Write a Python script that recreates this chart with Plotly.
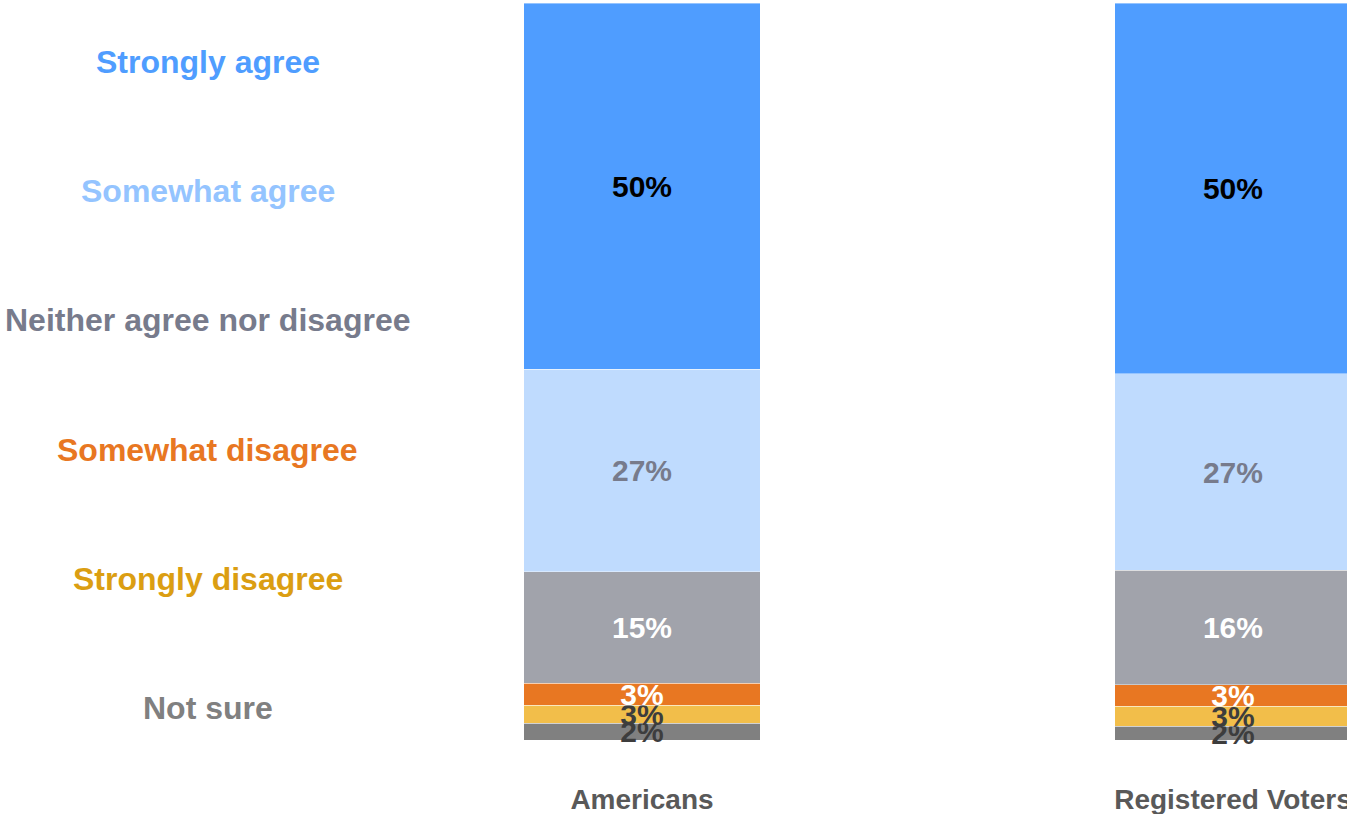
import plotly.graph_objects as go

groups = ["Americans", "Registered Voters"]

# stacked bottom -> top
responses = [
    "Not sure",
    "Strongly disagree",
    "Somewhat disagree",
    "Neither agree nor disagree",
    "Somewhat agree",
    "Strongly agree",
]
americans = [2.3, 2.4, 3.0, 15.1, 27.5, 49.7]
voters = [1.9, 2.7, 2.9, 15.5, 26.7, 50.3]
americans_labels = ["2%", "3%", "3%", "15%", "27%", "50%"]
voters_labels = ["2%", "3%", "3%", "16%", "27%", "50%"]

bar_colors = ["#808080", "#F2BE4A", "#E87722", "#A1A3AB", "#BFDBFE", "#4F9DFF"]
label_colors = ["#3D3D3D", "#3D3D3D", "#FFFFFF", "#FFFFFF", "#777B8C", "#000000"]
legend_colors = ["#808080", "#DB9E12", "#E87722", "#777B8C", "#94C4FF", "#4F9DFF"]

FONT = "Liberation Sans, Arial, sans-serif"
W, H = 1347, 814
TOP, BOTTOM = 3, 740  # plot area in pixels

fig = go.Figure()
for i, name in enumerate(responses):
    fig.add_trace(
        go.Bar(
            x=groups,
            y=[americans[i], voters[i]],
            text=[americans_labels[i], voters_labels[i]],
            texttemplate="<b>%{text}</b>",
            name=name,
            marker_color=bar_colors[i],
            marker_line_color="rgba(255,255,255,0.4)",
            marker_line_width=1,
            textposition="inside",
            insidetextanchor="middle",
            textangle=0,
            insidetextfont=dict(family=FONT, size=30, color=label_colors[i]),
            constraintext="none",
            cliponaxis=False,
            width=0.4,
            hoverinfo="skip",
        )
    )

# legend-like labels on the left (pixel rows of the reference)
legend_y = [708, 579, 450, 320, 191, 62]
for i, name in enumerate(responses):
    fig.add_annotation(
        x=208 / W,
        y=(BOTTOM - legend_y[i]) / (BOTTOM - TOP),
        xref="paper",
        yref="paper",
        text=f"<b>{name}</b>",
        showarrow=False,
        xanchor="center",
        yanchor="middle",
        font=dict(family=FONT, size=32, color=legend_colors[i]),
    )

fig.update_layout(
    barmode="stack",
    showlegend=False,
    width=W,
    height=H,
    margin=dict(l=0, r=0, t=TOP, b=H - BOTTOM),
    paper_bgcolor="white",
    plot_bgcolor="white",
    uniformtext=dict(minsize=30, mode="show"),
    font=dict(family=FONT),
)
fig.update_xaxes(
    domain=[420 / W, 1],
    range=[-0.3756, 1.193],
    automargin=False,
    showgrid=False,
    showline=False,
    zeroline=False,
    ticks="",
    tickfont=dict(family=FONT, size=28, color="#595959"),
    ticktext=[f"<b>{g}</b>" for g in groups],
    tickvals=groups,
    ticklabelstandoff=40,
)
fig.update_yaxes(
    range=[0, 100],
    visible=False,
    automargin=False,
)

fig.write_html(
    "out.html",
    config={"displayModeBar": False},
    post_script="document.body.style.margin='0';document.documentElement.style.overflow='hidden';",
)
